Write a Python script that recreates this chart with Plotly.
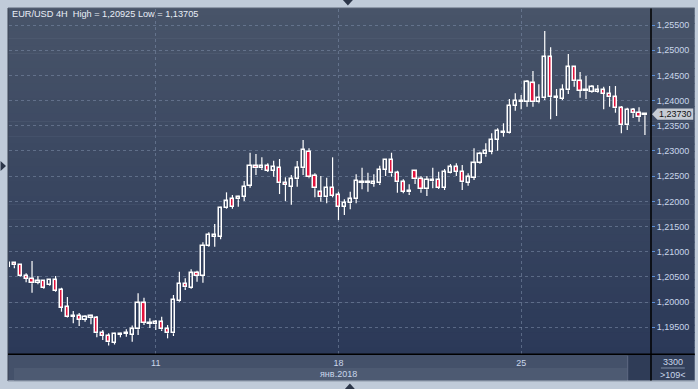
import plotly.graph_objects as go

# ---------------- data (EUR/USD 4H candles) ----------------
candle_index = list(range(109))
open_ = [1.20702, 1.20770, 1.20736, 1.20512, 1.20452, 1.20379, 1.20412, 1.20339, 1.20432, 1.20240,
         1.19896, 1.19704, 1.19724, 1.19650, 1.19690, 1.19684, 1.19380, 1.19327, 1.19194, 1.19352,
         1.19366, 1.19352, 1.19460, 1.19976, 1.19569, 1.19559, 1.19599, 1.19460, 1.19380, 1.20027,
         1.20353, 1.20285, 1.20571, 1.20524, 1.21113, 1.21298, 1.21298, 1.21862, 1.22040, 1.22040,
         1.22092, 1.22310, 1.22701, 1.22656, 1.22701, 1.22608, 1.22661, 1.22370, 1.22290, 1.22437,
         1.22656, 1.22985, 1.22503, 1.22179, 1.22080, 1.22270, 1.22120, 1.21893, 1.21961, 1.22040,
         1.22370, 1.22370, 1.22344, 1.22358, 1.22622, 1.22820, 1.22556, 1.22378, 1.22179, 1.22596,
         1.22437, 1.22239, 1.22397, 1.22423, 1.22270, 1.22568, 1.22675, 1.22588, 1.22370, 1.22469,
         1.22755, 1.22933, 1.22985, 1.23217, 1.23362, 1.23362, 1.23892, 1.23972, 1.23972, 1.24343,
         1.23966, 1.24045, 1.24859, 1.24051, 1.24037, 1.24204, 1.24660, 1.24382, 1.24184, 1.24176,
         1.24170, 1.24204, 1.24130, 1.24065, 1.23847, 1.23509, 1.23813, 1.23759, 1.23708]
high = [1.20786, 1.20790, 1.20756, 1.20571, 1.20815, 1.20518, 1.20424, 1.20458, 1.20518, 1.20285,
        1.20101, 1.19823, 1.19783, 1.19738, 1.19750, 1.19724, 1.19446, 1.19380, 1.19392, 1.19392,
        1.19460, 1.19535, 1.20174, 1.20087, 1.19678, 1.19644, 1.19710, 1.19545, 1.20141, 1.20603,
        1.20472, 1.20651, 1.20623, 1.21187, 1.21385, 1.21550, 1.21893, 1.22179, 1.22126, 1.22112,
        1.22403, 1.22965, 1.22939, 1.22874, 1.22755, 1.22806, 1.22840, 1.22477, 1.22523, 1.22800,
        1.23217, 1.23052, 1.22556, 1.22503, 1.22469, 1.22874, 1.22191, 1.22040, 1.22191, 1.22536,
        1.22667, 1.22568, 1.22536, 1.22707, 1.22840, 1.22965, 1.22608, 1.22437, 1.22338, 1.22602,
        1.22503, 1.22503, 1.22667, 1.22588, 1.22642, 1.22741, 1.22755, 1.22721, 1.22556, 1.23052,
        1.22985, 1.23152, 1.23350, 1.23449, 1.23549, 1.24031, 1.24144, 1.24111, 1.24408, 1.24587,
        1.24323, 1.25381, 1.25057, 1.24230, 1.24323, 1.24924, 1.24686, 1.24567, 1.24488, 1.24309,
        1.24309, 1.24275, 1.24289, 1.24289, 1.23892, 1.23858, 1.23852, 1.23866, 1.23747]
low = [1.20676, 1.20670, 1.20498, 1.20393, 1.20186, 1.20353, 1.20266, 1.20325, 1.20206, 1.19809,
       1.19690, 1.19579, 1.19525, 1.19611, 1.19559, 1.19301, 1.19247, 1.19138, 1.19158, 1.19301,
       1.19313, 1.19214, 1.19347, 1.19545, 1.19485, 1.19446, 1.19426, 1.19281, 1.19327, 1.20008,
       1.20240, 1.20266, 1.20405, 1.20385, 1.21099, 1.21099, 1.21246, 1.21848, 1.21854, 1.21893,
       1.22006, 1.22270, 1.22523, 1.22622, 1.22582, 1.22489, 1.22145, 1.22006, 1.21933, 1.22290,
       1.22523, 1.22457, 1.22080, 1.21992, 1.21961, 1.22080, 1.21629, 1.21729, 1.21842, 1.21961,
       1.22239, 1.22191, 1.22290, 1.22324, 1.22503, 1.22489, 1.22171, 1.22159, 1.22126, 1.22344,
       1.22171, 1.22106, 1.22258, 1.22245, 1.22225, 1.22556, 1.22503, 1.22225, 1.22310, 1.22423,
       1.22741, 1.22886, 1.22933, 1.23005, 1.23283, 1.23346, 1.23799, 1.23827, 1.23878, 1.23878,
       1.23946, 1.24011, 1.23628, 1.23694, 1.24011, 1.24130, 1.24275, 1.24057, 1.24031, 1.24156,
       1.24156, 1.23827, 1.23878, 1.23759, 1.23350, 1.23416, 1.23654, 1.23581, 1.23317]
close = [1.20770, 1.20730, 1.20512, 1.20458, 1.20373, 1.20418, 1.20279, 1.20438, 1.20226, 1.19888,
         1.19698, 1.19730, 1.19650, 1.19710, 1.19718, 1.19380, 1.19327, 1.19202, 1.19366, 1.19366,
         1.19380, 1.19460, 1.19976, 1.19591, 1.19585, 1.19599, 1.19460, 1.19380, 1.20041, 1.20359,
         1.20293, 1.20571, 1.20524, 1.21113, 1.21332, 1.21332, 1.21862, 1.22002, 1.21893, 1.22092,
         1.22290, 1.22701, 1.22656, 1.22701, 1.22608, 1.22675, 1.22358, 1.22324, 1.22437, 1.22656,
         1.23019, 1.22477, 1.22258, 1.22080, 1.22270, 1.22112, 1.21893, 1.21961, 1.22040, 1.22403,
         1.22390, 1.22384, 1.22378, 1.22622, 1.22820, 1.22556, 1.22378, 1.22191, 1.22205, 1.22437,
         1.22239, 1.22423, 1.22423, 1.22270, 1.22576, 1.22675, 1.22588, 1.22378, 1.22477, 1.22755,
         1.22933, 1.22999, 1.23217, 1.23396, 1.23382, 1.23892, 1.23991, 1.23991, 1.24363, 1.23966,
         1.24045, 1.24859, 1.24065, 1.24071, 1.24204, 1.24660, 1.24382, 1.24196, 1.24204, 1.24263,
         1.24210, 1.24130, 1.24065, 1.23847, 1.23509, 1.23813, 1.23747, 1.23680, 1.23730]

x_tick_pos = [25, 56, 87]
x_tick_text = ["11", "18", "25"]
y_tick_vals = [1.195, 1.200, 1.205, 1.210, 1.215, 1.220, 1.225, 1.230, 1.235, 1.240, 1.245, 1.250, 1.255]
y_tick_text = ["1,19500", "1,20000", "1,20500", "1,21000", "1,21500", "1,22000", "1,22500",
               "1,23000", "1,23500", "1,24000", "1,24500", "1,25000", "1,25500"]
title_text = "EUR/USD 4H  High = 1,20925 Low = 1,13705"
last_price = 1.23730
last_price_text = "1,23730"
month_label = "янв.2018"
corner_top = "3300"
corner_bottom = ">109<"

# ---------------- geometry / style ----------------
W, H = 698, 389
PL, PR, PT, PB = 9, 655, 9, 354
XMIN, XMAX = 0.093, 109.03
YMIN, YMAX = 1.1897, 1.25818
FONT = "Liberation Sans, Arial, sans-serif"
LABEL_COLOR = "#c9d6ea"
RED = "#e2123c"
GRID = "rgba(125,142,170,0.55)"


def px(x):
    return (x - PL) / (PR - PL)


def py(y):
    return (PB - y) / (PB - PT)


# ---------------- traces ----------------
up_x, up_base, up_h = [], [], []
dn_x, dn_base, dn_h = [], [], []
wx, wy = [], []
for i, o, h, l, c in zip(candle_index, open_, high, low, close):
    top, bot = max(o, c), min(o, c)
    if c >= o:
        up_x.append(i); up_base.append(bot); up_h.append(max(top - bot, 0.00002))
    else:
        dn_x.append(i); dn_base.append(bot); dn_h.append(max(top - bot, 0.00002))
    wx += [i, i, None, i, i, None]
    wy += [top, h, None, l, bot, None]

fig = go.Figure()
fig.add_trace(go.Scatter(x=wx, y=wy, mode="lines", line=dict(color="white", width=1.2),
                         hoverinfo="skip", connectgaps=False))
fig.add_trace(go.Bar(x=up_x, y=up_h, base=up_base, width=0.55,
                     marker=dict(color="rgba(0,0,0,0)", line=dict(color="white", width=1.5))))
fig.add_trace(go.Bar(x=dn_x, y=dn_h, base=dn_base, width=0.55,
                     marker=dict(color=RED, line=dict(color="white", width=1.5))))

# ---------------- background shapes ----------------
shapes = []
top_c = (72, 84, 105)
bot_c = (43, 57, 88)
n_bands = 46
y0b, y1b = 8, 355
for k in range(n_bands):
    ya = y0b + (y1b - y0b) * k / n_bands
    yb = y0b + (y1b - y0b) * (k + 1) / n_bands + 0.6
    t = (k + 0.5) / n_bands
    col = "rgb(%d,%d,%d)" % tuple(round(a + (b - a) * t) for a, b in zip(top_c, bot_c))
    shapes.append(dict(type="rect", xref="paper", yref="paper", layer="below",
                       x0=px(8), x1=px(699), y0=py(ya), y1=py(yb),
                       fillcolor=col, line=dict(width=0)))

# bottom time-axis area
shapes += [
    dict(type="rect", xref="paper", yref="paper", layer="below", x0=px(8), x1=px(655),
         y0=py(354), y1=py(380.5), fillcolor="#44516a", line=dict(width=0)),
    dict(type="rect", xref="paper", yref="paper", layer="below", x0=px(14), x1=px(631),
         y0=py(368), y1=py(380.5), fillcolor="#4d5a72", line=dict(width=0)),
    dict(type="rect", xref="paper", yref="paper", layer="below", x0=px(632), x1=px(655),
         y0=py(355), y1=py(380.5), fillcolor="#2f3c57", line=dict(width=0)),
    dict(type="line", xref="paper", yref="paper", layer="below", x0=px(631.5), x1=px(631.5),
         y0=py(356), y1=py(380), line=dict(color="#5c6780", width=1)),
    dict(type="rect", xref="paper", yref="paper", layer="below", x0=px(655), x1=px(699),
         y0=py(354), y1=py(380.5), fillcolor="#33405b", line=dict(width=0)),
]

# frame lines
shapes += [
    dict(type="line", xref="paper", yref="paper", layer="above", x0=px(8), x1=px(8),
         y0=py(8), y1=py(381), line=dict(color="#3b4352", width=1)),
    dict(type="line", xref="paper", yref="paper", layer="above", x0=px(8), x1=px(699),
         y0=py(8), y1=py(8), line=dict(color="#5a6477", width=1)),
    dict(type="line", xref="paper", yref="paper", layer="above", x0=px(8), x1=px(699),
         y0=py(381), y1=py(381), line=dict(color="#8e99aa", width=1.2)),
    dict(type="line", xref="paper", yref="paper", layer="above", x0=px(655), x1=px(655),
         y0=py(8.5), y1=py(380.5), line=dict(color="black", width=1.5)),
    dict(type="line", xref="paper", yref="paper", layer="above", x0=px(8), x1=px(699),
         y0=py(354.3), y1=py(354.3), line=dict(color="black", width=1.5)),
    dict(type="line", xref="paper", yref="paper", layer="above", x0=px(665), x1=px(689),
         y0=py(368), y1=py(368), line=dict(color="#7d8aa3", width=1)),
]

# scroll markers (triangles)
def tri(points, color="#2c3649"):
    d = "M " + " L ".join("%f,%f" % (px(a), py(b)) for a, b in points) + " Z"
    return dict(type="path", xref="paper", yref="paper", layer="above", path=d,
                fillcolor=color, line=dict(width=0))

shapes += [
    tri([(345, 0), (355, 0), (350, 5.5)]),
    tri([(347, 389), (357, 389), (352, 383.5)]),
    tri([(0.5, 161), (0.5, 171), (6, 166)]),
]

# last price label
lp_y = PT + (YMAX - last_price) / (YMAX - YMIN) * (PB - PT)
shapes.append(tri([(656, lp_y), (661.5, lp_y - 5.6), (697.5, lp_y - 5.6),
                   (697.5, lp_y + 5.6), (661.5, lp_y + 5.6)], color="#c6cbd4"))

annotations = [
    dict(text=title_text, x=px(10.5), y=py(14.5), xref="paper", yref="paper",
         xanchor="left", yanchor="middle", showarrow=False,
         font=dict(family=FONT, size=9.2, color="#e9eef7")),
    dict(text=month_label, x=px(341), y=py(374), xref="paper", yref="paper",
         xanchor="center", yanchor="middle", showarrow=False,
         font=dict(family=FONT, size=9, color=LABEL_COLOR)),
    dict(text=corner_top, x=px(677), y=py(361.5), xref="paper", yref="paper",
         xanchor="center", yanchor="middle", showarrow=False,
         font=dict(family=FONT, size=9, color=LABEL_COLOR)),
    dict(text=corner_bottom, x=px(677), y=py(374.5), xref="paper", yref="paper",
         xanchor="center", yanchor="middle", showarrow=False,
         font=dict(family=FONT, size=9, color=LABEL_COLOR)),
    dict(text=last_price_text, x=px(679.5), y=py(lp_y), xref="paper", yref="paper",
         xanchor="center", yanchor="middle", showarrow=False,
         font=dict(family=FONT, size=9, color="#111111")),
]

fig.update_layout(
    width=W, height=H,
    margin=dict(l=PL, r=W - PR, t=PT, b=H - PB, pad=0),
    paper_bgcolor="#c0cbd9", plot_bgcolor="rgba(0,0,0,0)",
    showlegend=False, barmode="overlay", bargap=0,
    shapes=shapes, annotations=annotations,
    xaxis=dict(range=[XMIN, XMAX], tickmode="array", tickvals=x_tick_pos, ticktext=x_tick_text,
               showgrid=True, gridcolor=GRID, griddash="3px,3px", gridwidth=1,
               zeroline=False, showline=False, ticks="", ticklabelstandoff=2,
               tickfont=dict(family=FONT, size=9, color=LABEL_COLOR), fixedrange=True),
    yaxis=dict(range=[YMIN, YMAX], side="right", tickmode="array", tickvals=y_tick_vals,
               ticktext=y_tick_text, showgrid=True, gridcolor=GRID, griddash="3px,3px",
               gridwidth=1, zeroline=False, showline=False, ticks="outside", ticklen=3,
               tickwidth=1, tickcolor="#5b8fd8",
               tickfont=dict(family=FONT, size=9, color=LABEL_COLOR), fixedrange=True),
)

fig.write_html("out.html")
